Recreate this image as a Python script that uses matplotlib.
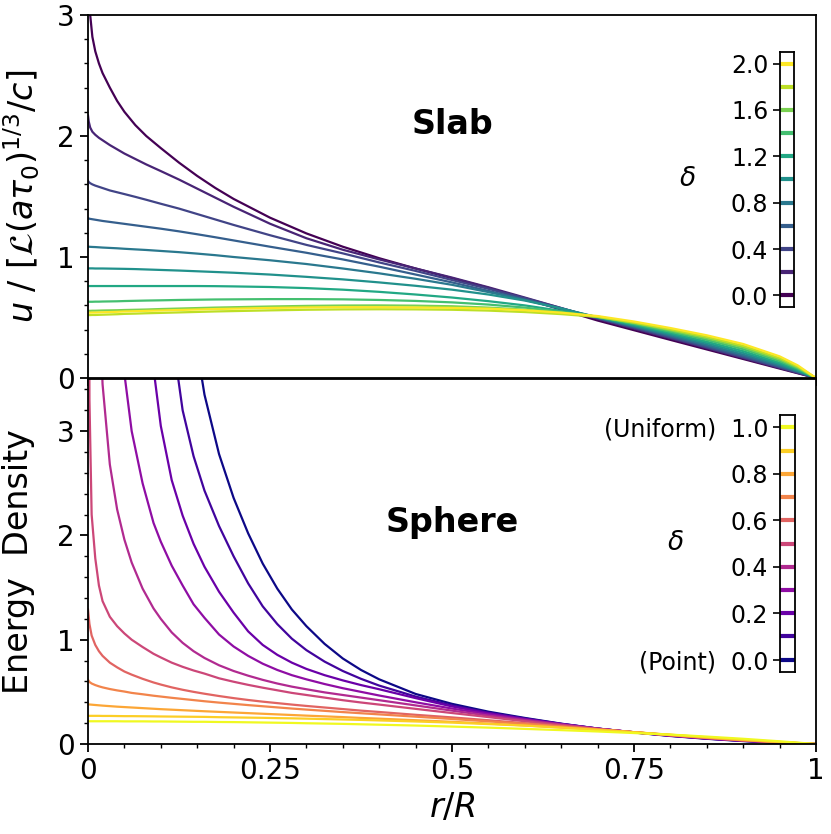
import numpy as np
import matplotlib
matplotlib.use('Agg')
import matplotlib.pyplot as plt
from matplotlib.ticker import MultipleLocator, FixedLocator

# ---- slab panel: r/R samples and u for delta = 0.0 ... 2.0
r_slab = [0, 0.001, 0.003, 0.006, 0.01, 0.015, 0.02, 0.03, 0.04, 0.05,
          0.065, 0.08, 0.1, 0.125, 0.15, 0.175, 0.2, 0.25, 0.3, 0.35,
          0.4, 0.45, 0.5, 0.55, 0.6, 0.65, 0.7, 0.75, 0.8, 0.85,
          0.9, 0.95, 0.975, 1.0]
slab_delta = [0.0, 0.2, 0.4, 0.6, 0.8, 1.0, 1.2, 1.4, 1.6, 1.8, 2.0]

slab_00 = [5.0, 3.35, 3.0, 2.82, 2.70, 2.60, 2.52, 2.40, 2.29, 2.20,
           2.09, 2.0, 1.90, 1.78, 1.67, 1.57, 1.48, 1.325, 1.195, 1.085,
           0.99, 0.905, 0.825, 0.745, 0.655, 0.565, 0.475, 0.395, 0.315, 0.236,
           0.157, 0.078, 0.039, 0.0]
slab_02 = [2.17, 2.12, 2.07, 2.035, 2.01, 1.985, 1.965, 1.925, 1.89, 1.855,
           1.81, 1.765, 1.71, 1.64, 1.565, 1.49, 1.415, 1.275, 1.155, 1.06,
           0.98, 0.905, 0.83, 0.75, 0.665, 0.578, 0.488, 0.408, 0.328, 0.247,
           0.165, 0.083, 0.042, 0.0]
slab_04 = [1.63, 1.62, 1.61, 1.60, 1.59, 1.58, 1.57, 1.55, 1.535, 1.52,
           1.497, 1.473, 1.44, 1.40, 1.355, 1.31, 1.265, 1.18, 1.10, 1.03,
           0.955, 0.885, 0.81, 0.737, 0.66, 0.578, 0.493, 0.415, 0.335, 0.254,
           0.172, 0.088, 0.045, 0.0]
slab_06 = [1.32, 1.318, 1.315, 1.312, 1.308, 1.303, 1.298, 1.29, 1.282, 1.274,
           1.262, 1.25, 1.234, 1.212, 1.188, 1.163, 1.137, 1.085, 1.035, 0.98,
           0.92, 0.855, 0.79, 0.72, 0.648, 0.573, 0.497, 0.422, 0.344, 0.264,
           0.182, 0.096, 0.05, 0.0]
slab_08 = [1.085, 1.085, 1.084, 1.083, 1.082, 1.08, 1.078, 1.075, 1.072, 1.068,
           1.063, 1.058, 1.05, 1.04, 1.028, 1.015, 1.0, 0.973, 0.942, 0.905,
           0.865, 0.82, 0.77, 0.71, 0.645, 0.574, 0.50, 0.427, 0.352, 0.274,
           0.193, 0.104, 0.055, 0.0]
slab_10 = [0.906, 0.906, 0.906, 0.906, 0.905, 0.905, 0.905, 0.904, 0.903, 0.902,
           0.90, 0.897, 0.893, 0.888, 0.882, 0.876, 0.87, 0.855, 0.836, 0.815,
           0.79, 0.762, 0.73, 0.69, 0.64, 0.575, 0.502, 0.433, 0.362, 0.287,
           0.207, 0.114, 0.06, 0.0]
slab_12 = [0.76, 0.76, 0.76, 0.76, 0.76, 0.76, 0.76, 0.76, 0.76, 0.76,
           0.76, 0.76, 0.76, 0.76, 0.76, 0.759, 0.757, 0.752, 0.743, 0.73,
           0.712, 0.69, 0.665, 0.635, 0.60, 0.555, 0.504, 0.44, 0.372, 0.30,
           0.222, 0.126, 0.068, 0.0]
slab_14 = [0.63, 0.63, 0.63, 0.63, 0.631, 0.631, 0.632, 0.633, 0.634, 0.636,
           0.638, 0.64, 0.642, 0.645, 0.647, 0.649, 0.65, 0.652, 0.652, 0.65,
           0.645, 0.637, 0.625, 0.607, 0.582, 0.547, 0.506, 0.447, 0.383, 0.315,
           0.238, 0.14, 0.077, 0.0]
slab_16 = [0.555, 0.555, 0.555, 0.556, 0.556, 0.557, 0.558, 0.559, 0.56, 0.562,
           0.564, 0.566, 0.57, 0.574, 0.578, 0.582, 0.585, 0.591, 0.596, 0.599,
           0.60, 0.598, 0.593, 0.582, 0.565, 0.54, 0.508, 0.455, 0.394, 0.328,
           0.253, 0.153, 0.086, 0.0]
slab_18 = [0.52, 0.52, 0.52, 0.521, 0.521, 0.522, 0.523, 0.525, 0.527, 0.53,
           0.532, 0.535, 0.538, 0.542, 0.546, 0.55, 0.553, 0.559, 0.564, 0.567,
           0.568, 0.567, 0.564, 0.557, 0.545, 0.528, 0.505, 0.458, 0.402, 0.34,
           0.266, 0.165, 0.094, 0.0]
slab_20 = [0.54, 0.54, 0.54, 0.541, 0.541, 0.542, 0.543, 0.545, 0.547, 0.55,
           0.552, 0.555, 0.558, 0.562, 0.566, 0.57, 0.573, 0.579, 0.583, 0.585,
           0.585, 0.583, 0.58, 0.573, 0.56, 0.54, 0.512, 0.467, 0.413, 0.353,
           0.281, 0.179, 0.104, 0.0]

# ---- sphere panel: r/R samples and u for delta = 0.0 (point) ... 1.0 (uniform)
r_sph = [0, 0.002, 0.005, 0.01, 0.015, 0.02, 0.03, 0.04, 0.05, 0.06,
         0.075, 0.09, 0.1, 0.115, 0.13, 0.145, 0.16, 0.18, 0.2, 0.22,
         0.24, 0.26, 0.28, 0.3, 0.325, 0.35, 0.375, 0.4, 0.45, 0.5,
         0.55, 0.6, 0.65, 0.7, 0.75, 0.8, 0.85, 0.9, 0.95, 1.0]
sph_delta = [0.0, 0.1, 0.2, 0.3, 0.4, 0.5, 0.6, 0.7, 0.8, 0.9, 1.0]

sph_00 = [99, 99, 99, 99, 99, 99, 99, 60, 40, 28,
          18, 12, 9.5, 6.8, 4.9, 4.0, 3.35, 2.78, 2.36, 2.02,
          1.73, 1.49, 1.29, 1.13, 0.96, 0.82, 0.71, 0.62, 0.48, 0.385,
          0.31, 0.25, 0.195, 0.148, 0.11, 0.077, 0.05, 0.028, 0.011, 0.0]
sph_01 = [99, 99, 99, 99, 99, 60, 35, 22, 15, 11,
          8.0, 6.2, 5.0, 3.95, 3.2, 2.76, 2.43, 2.09, 1.80, 1.54,
          1.32, 1.15, 1.01, 0.90, 0.79, 0.70, 0.625, 0.56, 0.455, 0.37,
          0.30, 0.245, 0.193, 0.148, 0.111, 0.079, 0.052, 0.03, 0.012, 0.0]
sph_02 = [99, 99, 99, 60, 35, 22, 13, 9.0, 6.8, 5.6,
          4.4, 3.6, 3.05, 2.53, 2.19, 1.92, 1.70, 1.46, 1.26, 1.08,
          0.95, 0.855, 0.78, 0.72, 0.66, 0.61, 0.565, 0.525, 0.44, 0.36,
          0.295, 0.24, 0.192, 0.148, 0.112, 0.08, 0.053, 0.031, 0.013, 0.0]
sph_03 = [99, 60, 30, 18, 12, 9.0, 6.2, 4.7, 3.55, 3.0,
          2.5, 2.12, 1.94, 1.71, 1.52, 1.34, 1.21, 1.05, 0.935, 0.845,
          0.77, 0.71, 0.66, 0.62, 0.575, 0.535, 0.50, 0.465, 0.40, 0.34,
          0.285, 0.235, 0.19, 0.147, 0.112, 0.081, 0.054, 0.032, 0.014, 0.0]
sph_04 = [40, 15, 9.0, 6.0, 4.4, 3.45, 2.68, 2.25, 1.96, 1.74,
          1.49, 1.30, 1.20, 1.07, 0.97, 0.89, 0.825, 0.755, 0.70, 0.655,
          0.615, 0.58, 0.55, 0.525, 0.495, 0.47, 0.445, 0.42, 0.37, 0.32,
          0.272, 0.228, 0.187, 0.147, 0.113, 0.083, 0.056, 0.034, 0.015, 0.0]
sph_05 = [9.0, 3.3, 2.2, 1.78, 1.52, 1.37, 1.22, 1.13, 1.06, 1.0,
          0.93, 0.865, 0.83, 0.78, 0.74, 0.705, 0.675, 0.63, 0.597, 0.567,
          0.54, 0.515, 0.49, 0.47, 0.445, 0.42, 0.398, 0.378, 0.337, 0.297,
          0.258, 0.218, 0.18, 0.145, 0.113, 0.084, 0.058, 0.035, 0.016, 0.0]
sph_06 = [1.29, 1.15, 1.04, 0.95, 0.89, 0.845, 0.78, 0.735, 0.695, 0.665,
          0.625, 0.59, 0.57, 0.543, 0.52, 0.50, 0.482, 0.46, 0.44, 0.422,
          0.406, 0.392, 0.378, 0.365, 0.35, 0.335, 0.32, 0.307, 0.28, 0.255,
          0.228, 0.20, 0.172, 0.142, 0.113, 0.085, 0.059, 0.036, 0.017, 0.0]
sph_07 = [0.615, 0.595, 0.58, 0.565, 0.553, 0.543, 0.527, 0.514, 0.503, 0.49,
          0.477, 0.463, 0.455, 0.443, 0.432, 0.421, 0.41, 0.397, 0.385, 0.373,
          0.362, 0.351, 0.34, 0.33, 0.318, 0.306, 0.295, 0.284, 0.262, 0.24,
          0.217, 0.193, 0.167, 0.14, 0.113, 0.086, 0.06, 0.037, 0.018, 0.0]
sph_08 = [0.38, 0.379, 0.377, 0.374, 0.371, 0.368, 0.363, 0.358, 0.354, 0.35,
          0.344, 0.338, 0.334, 0.329, 0.324, 0.319, 0.314, 0.308, 0.302, 0.296,
          0.29, 0.284, 0.278, 0.272, 0.265, 0.258, 0.25, 0.243, 0.228, 0.213,
          0.196, 0.178, 0.158, 0.137, 0.113, 0.088, 0.063, 0.04, 0.019, 0.0]
sph_09 = [0.27, 0.27, 0.27, 0.27, 0.27, 0.269, 0.269, 0.268, 0.267, 0.267,
          0.266, 0.265, 0.264, 0.263, 0.262, 0.261, 0.26, 0.257, 0.255, 0.253,
          0.251, 0.248, 0.246, 0.243, 0.239, 0.235, 0.231, 0.226, 0.216, 0.205,
          0.191, 0.176, 0.157, 0.135, 0.113, 0.089, 0.065, 0.042, 0.02, 0.0]
sph_10 = [0.218, 0.218, 0.218, 0.218, 0.218, 0.218, 0.218, 0.218, 0.217, 0.217,
          0.217, 0.216, 0.216, 0.215, 0.214, 0.213, 0.213, 0.211, 0.21, 0.208,
          0.206, 0.204, 0.202, 0.199, 0.196, 0.193, 0.189, 0.185, 0.177, 0.167,
          0.157, 0.145, 0.133, 0.12, 0.105, 0.09, 0.071, 0.05, 0.026, 0.0]

slab_curves = [slab_00, slab_02, slab_04, slab_06, slab_08, slab_10,
               slab_12, slab_14, slab_16, slab_18, slab_20]
sph_curves = [sph_00, sph_01, sph_02, sph_03, sph_04, sph_05,
              sph_06, sph_07, sph_08, sph_09, sph_10]

W, H = 831, 834
fig = plt.figure(figsize=(W / 100, H / 100), dpi=100)

ax1 = fig.add_axes([88 / W, (H - 378) / H, 728 / W, 363 / H])
ax2 = fig.add_axes([88 / W, (H - 744) / H, 728 / W, 365 / H])

vir = plt.get_cmap('viridis')
pla = plt.get_cmap('plasma')

for d, u in zip(slab_delta, slab_curves):
    ax1.plot(r_slab, u, color=vir(d / 2.0), lw=1.6)
for d, u in zip(sph_delta, sph_curves):
    ax2.plot(r_sph, u, color=pla(d), lw=1.6)

ax1.set_xlim(0, 1)
ax1.set_ylim(0, 3)
ax2.set_xlim(0, 1)
ax2.set_ylim(0, 3.5)

for ax in (ax1, ax2):
    ax.xaxis.set_major_locator(FixedLocator([0, 0.25, 0.5, 0.75, 1]))
    ax.xaxis.set_minor_locator(MultipleLocator(0.05))
    ax.yaxis.set_major_locator(MultipleLocator(1))
    ax.yaxis.set_minor_locator(MultipleLocator(0.2))
    ax.tick_params(which='major', direction='out', length=6, width=1.3, labelsize=20)
    ax.tick_params(which='minor', direction='out', length=3, width=1.0)
    for s in ax.spines.values():
        s.set_linewidth(1.3)

ax1.tick_params(labelbottom=False)
ax2.set_xticklabels(['0', '0.25', '0.5', '0.75', '1'])

ax1.set_ylabel(r'$u\ /\ [\mathcal{L}(a\tau_0)^{1/3}/c]$', fontsize=24)
ax1.yaxis.set_label_coords(-0.063, 0.5)
ax2.set_ylabel('Energy  Density', fontsize=24)
ax2.yaxis.set_label_coords(-0.073, 0.5)
ax2.set_xlabel(r'$r/R$', fontsize=24, labelpad=4)

ax1.text(0.5, 0.697, 'Slab', transform=ax1.transAxes, fontsize=24,
         fontweight='bold', ha='center', va='center')
ax2.text(0.5, 0.608, 'Sphere', transform=ax2.transAxes, fontsize=24,
         fontweight='bold', ha='center', va='center')

# discrete colour keys
cax1 = fig.add_axes([780 / W, (H - 307) / H, 14 / W, 255 / H])
for d in slab_delta:
    cax1.plot([0, 1], [d, d], color=vir(d / 2.0), lw=3, solid_capstyle='butt')
cax1.set_xlim(0, 1)
cax1.set_ylim(-0.1, 2.1)
cax1.set_xticks([])
cax1.set_yticks([0.0, 0.4, 0.8, 1.2, 1.6, 2.0])
cax1.set_yticklabels(['0.0', '0.4', '0.8', '1.2', '1.6', '2.0'])
cax1.tick_params(direction='out', length=5, width=1.2, labelsize=17)
cax1.text(-6.6, 0.5, r'$\delta$', transform=cax1.transAxes, fontsize=19,
          ha='center', va='center')

cax2 = fig.add_axes([780 / W, (H - 672) / H, 15 / W, 257 / H])
for d in sph_delta:
    cax2.plot([0, 1], [d, d], color=pla(d), lw=3, solid_capstyle='butt')
cax2.set_xlim(0, 1)
cax2.set_ylim(-0.053, 1.053)
cax2.set_xticks([])
cax2.set_yticks([0.0, 0.2, 0.4, 0.6, 0.8, 1.0])
cax2.set_yticklabels(['(Point)  0.0', '0.2', '0.4', '0.6', '0.8', '(Uniform)  1.0'])
cax2.tick_params(direction='out', length=5, width=1.2, labelsize=17)
cax2.text(-7.0, 0.5, r'$\delta$', transform=cax2.transAxes, fontsize=19,
          ha='center', va='center')

for cax in (cax1, cax2):
    for s in cax.spines.values():
        s.set_linewidth(1.3)

fig.savefig('out.png', dpi=100)
